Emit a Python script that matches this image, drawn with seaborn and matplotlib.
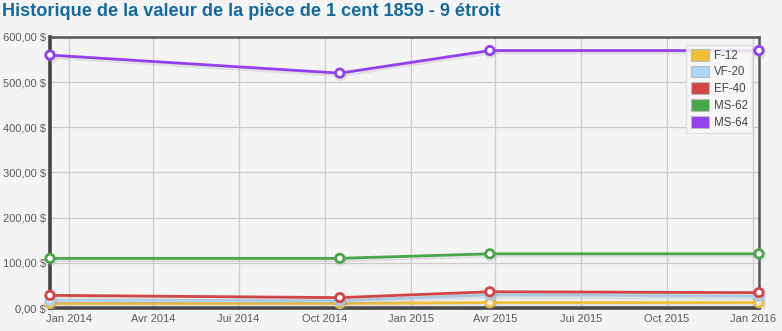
import matplotlib
matplotlib.use("Agg")
import matplotlib.pyplot as plt
import matplotlib.dates as mdates
import matplotlib.patheffects as pe
from matplotlib.patches import Patch
from matplotlib.ticker import FuncFormatter, FixedLocator
import pandas as pd
import seaborn as sns

# Price history of the coin, by grade
dates = ["2013-12-12", "2014-10-17", "2015-03-26", "2016-01-07"]
grades = ["F-12", "VF-20", "EF-40", "MS-62", "MS-64"]
f12 = [10, 10, 12, 12]
vf20 = [17, 16, 29, 26]
ef40 = [28, 23, 36, 34]
ms62 = [110, 110, 120, 120]
ms64 = [560, 520, 570, 570]
colors = ["#efbf3a", "#aed5f3", "#d24545", "#4aa64a", "#9340ee"]

tick_dates = ["2014-01-01", "2014-04-01", "2014-07-01", "2014-10-01", "2015-01-01",
              "2015-04-01", "2015-07-01", "2015-10-01", "2016-01-01"]
tick_labels = ["Jan 2014", "Avr 2014", "Jui 2014", "Oct 2014", "Jan 2015",
               "Avr 2015", "Jui 2015", "Oct 2015", "Jan 2016"]

title = "Historique de la valeur de la pièce de 1 cent 1859 - 9 étroit"

series = {"F-12": f12, "VF-20": vf20, "EF-40": ef40, "MS-62": ms62, "MS-64": ms64}
df = pd.DataFrame([
    {"date": pd.Timestamp(d), "grade": g, "value": v}
    for g in grades for d, v in zip(dates, series[g])
])

sns.set_theme(style="white")
plt.rcParams["font.family"] = ["Liberation Sans", "DejaVu Sans"]

bg = "#f4f4f4"
fig = plt.figure(figsize=(7.82, 3.31), dpi=100, facecolor=bg)
ax = fig.add_axes([50 / 782, 1 - 308 / 331, 709 / 782, 271 / 331])
ax.set_facecolor(bg)

shadow = [pe.SimpleLineShadow(offset=(0.6, -1.2), shadow_color="#999999", alpha=0.22, linewidth=3.2),
          pe.Normal()]

for g, c in zip(grades, colors):
    sub = df[df["grade"] == g]
    sns.lineplot(data=sub, x="date", y="value", ax=ax, color=c, linewidth=2,
                 marker="o", markersize=6, markerfacecolor="white",
                 markeredgecolor=c, markeredgewidth=2, clip_on=False,
                 path_effects=shadow, legend=False, zorder=3)

ax.set_xlim(pd.Timestamp(dates[0]), pd.Timestamp(dates[-1]))
ax.set_ylim(0, 600)

ax.xaxis.set_major_locator(FixedLocator([mdates.date2num(pd.Timestamp(d)) for d in tick_dates]))
ax.set_xticklabels(tick_labels)
ax.yaxis.set_major_locator(FixedLocator(range(0, 601, 100)))
ax.yaxis.set_major_formatter(FuncFormatter(lambda v, p: f"{v:.2f}".replace(".", ",") + " $"))

ax.grid(True, color="#cbcbcb", linewidth=0.9)
ax.set_axisbelow(True)
ax.tick_params(axis="both", length=0, labelsize=8.0, colors="#5a5a5a", pad=4)
ax.tick_params(axis="y", pad=3)
ax.set_xlabel("")
ax.set_ylabel("")

for side in ["left", "bottom"]:
    ax.spines[side].set_color("#444444")
    ax.spines[side].set_linewidth(2.6)
for side in ["top", "right"]:
    ax.spines[side].set_color("#555555")
    ax.spines[side].set_linewidth(1.8)

handles = [Patch(facecolor=c, edgecolor="#bbbbbb", linewidth=0.8, label=g)
           for g, c in zip(grades, colors)]
leg = ax.legend(handles=handles, loc="upper right", bbox_to_anchor=(0.993, 0.98),
                frameon=True, fancybox=False, fontsize=8.3, handlelength=1.6,
                handleheight=1.2, handletextpad=0.4, labelspacing=0.35,
                borderpad=0.35, borderaxespad=0.2)
leg.get_frame().set_facecolor("#f8f8f8")
leg.get_frame().set_edgecolor("#dddddd")
leg.get_frame().set_alpha(0.85)
leg.set_zorder(5)
for t in leg.get_texts():
    t.set_color("#444444")

fig.text(2 / 782, 1 - 12 / 331, title, ha="left", va="center", fontsize=13.1,
         fontweight="bold", color="#146aa0")

fig.savefig("out.png", dpi=100, facecolor=bg)
